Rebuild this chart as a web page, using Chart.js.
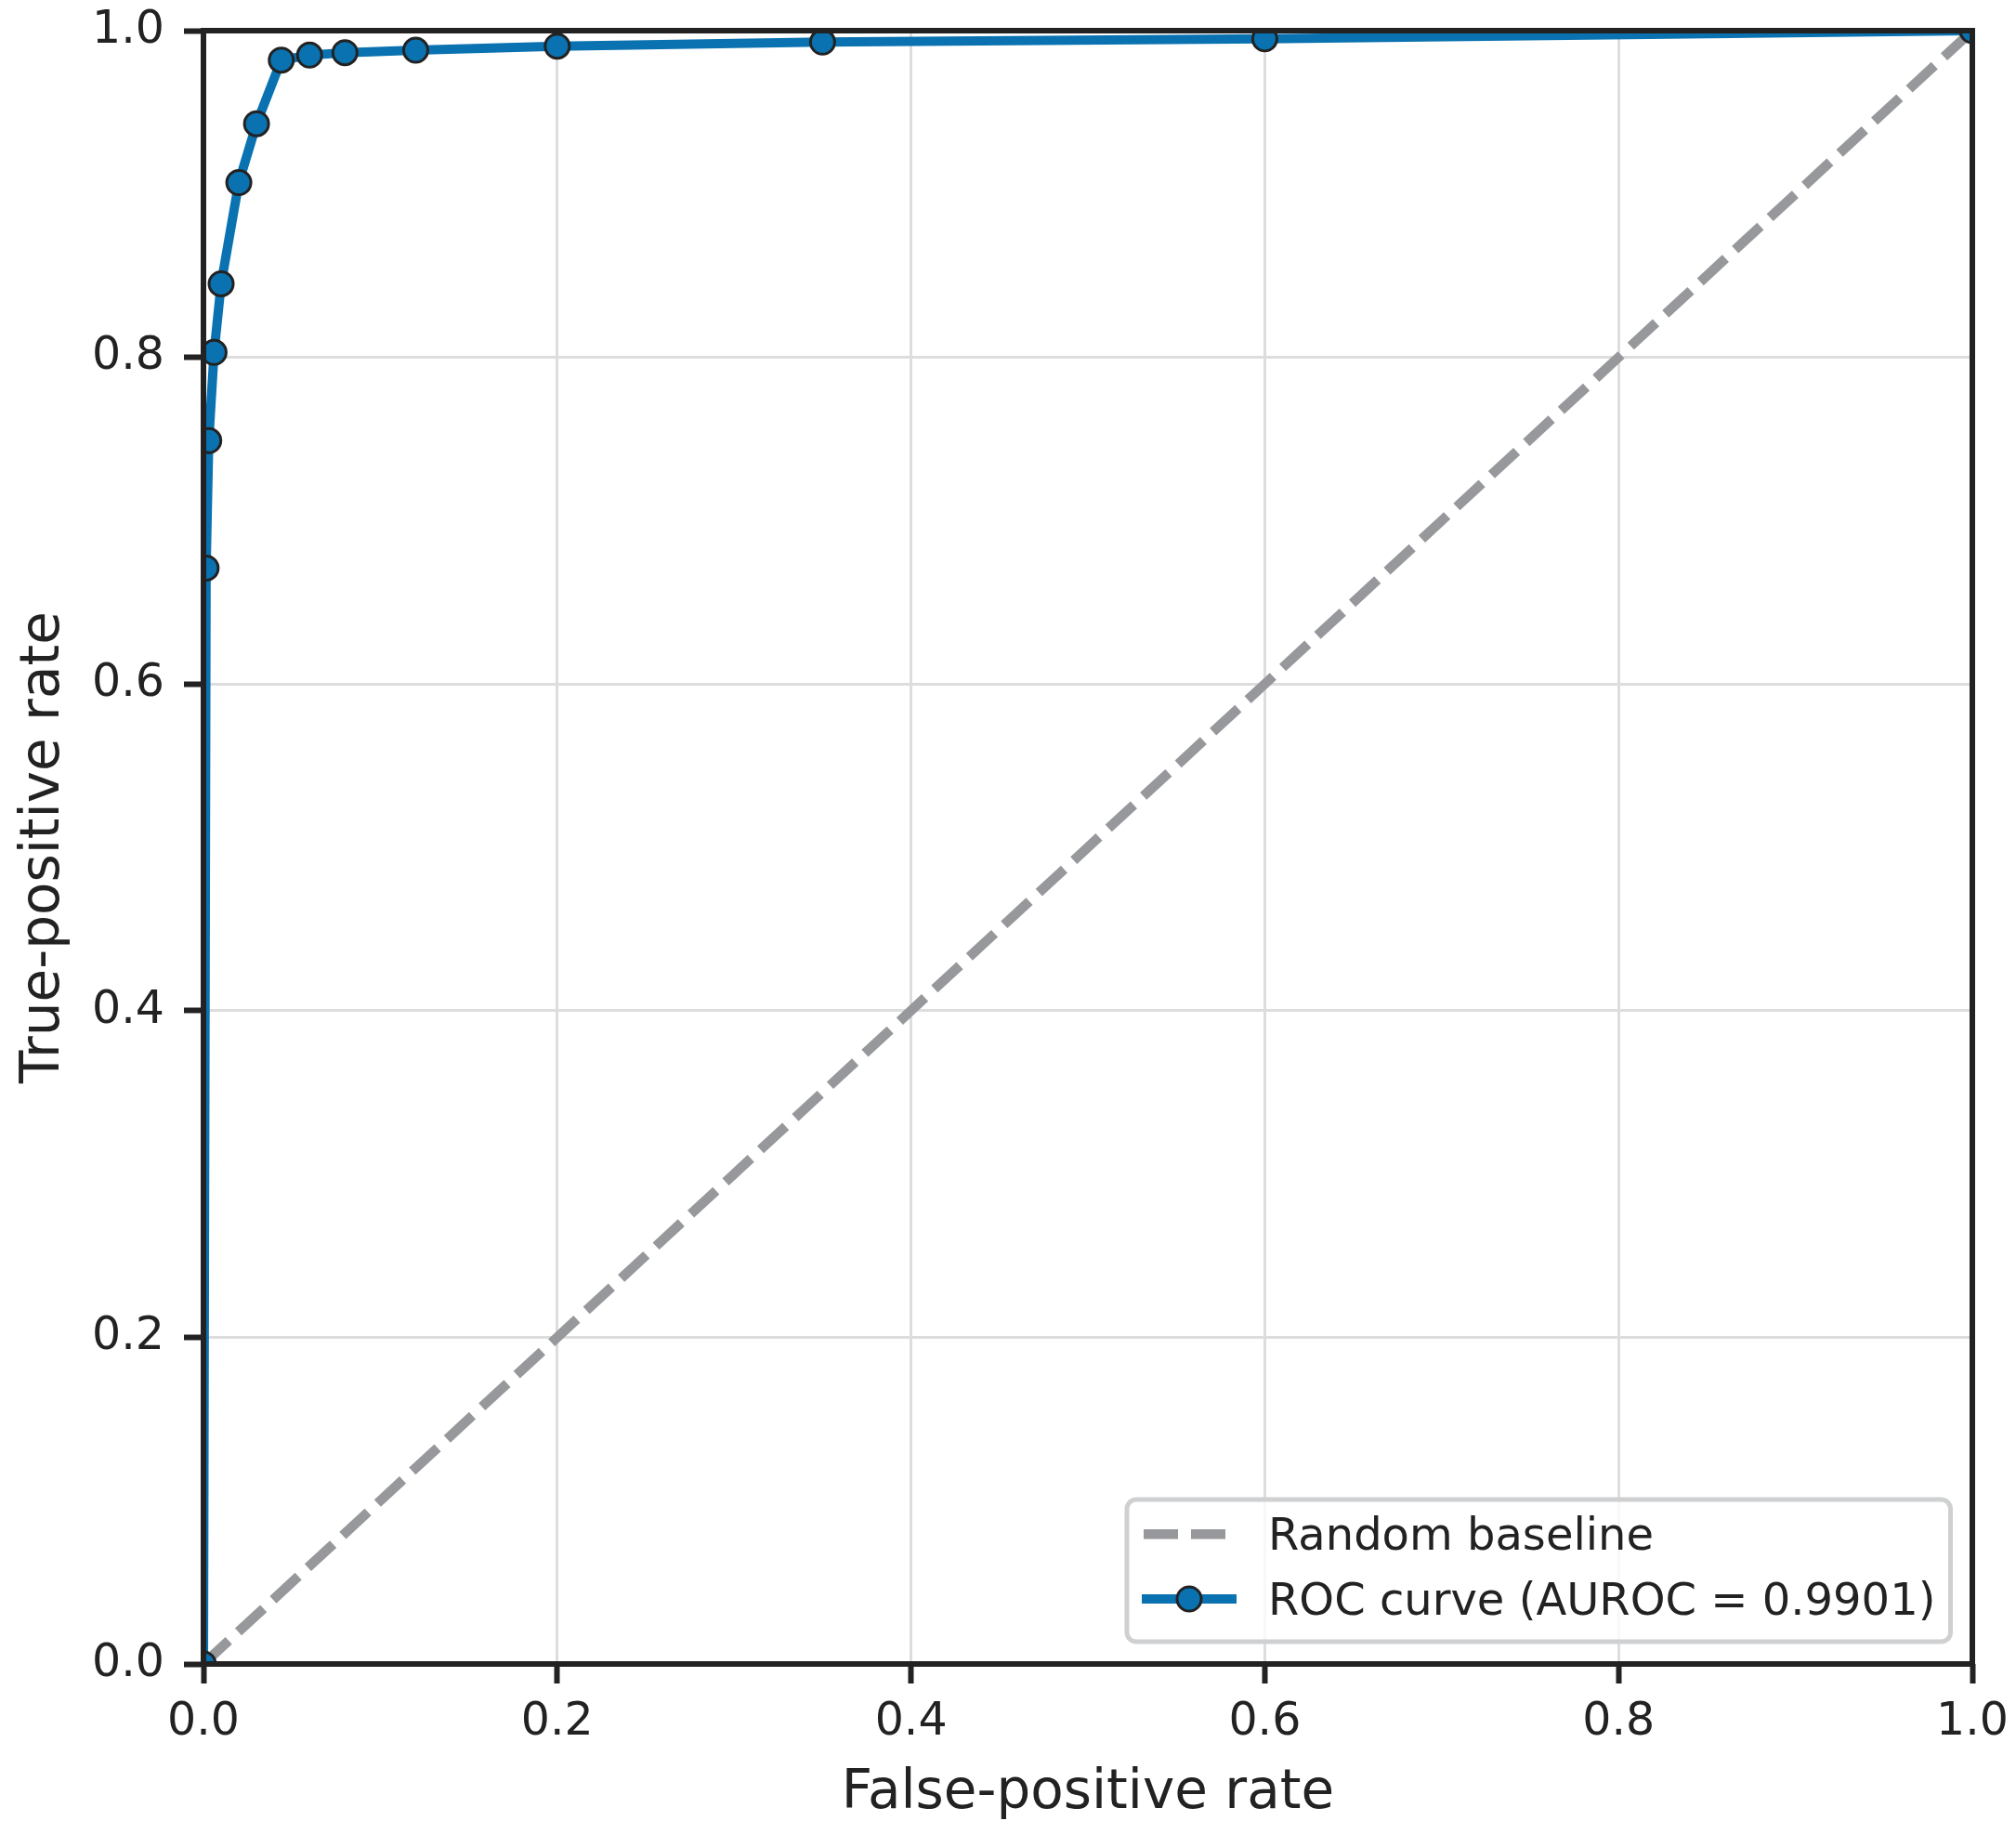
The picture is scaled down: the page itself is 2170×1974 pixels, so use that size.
<!DOCTYPE html>
<html>
<head>
<meta charset="utf-8">
<script src="https://cdn.jsdelivr.net/npm/chart.js@4.4.1/dist/chart.umd.min.js"></script>
<style>
  html, body { margin: 0; padding: 0; background: #ffffff; }
  #wrap { width: 2170px; height: 1974px; }
</style>
</head>
<body>
<div id="wrap"><canvas id="c" width="2170" height="1974"></canvas></div>
<script>
// ---- Data ----
const fpr = [0, 0.0015, 0.003, 0.006, 0.01, 0.02, 0.03, 0.044, 0.06, 0.08, 0.12, 0.2, 0.35, 0.6, 1.0];
const tpr = [0, 0.671, 0.749, 0.803, 0.845, 0.907, 0.943, 0.982, 0.985, 0.9865, 0.988, 0.9905, 0.993, 0.995, 1.0];
const baselineX = [0, 1];
const baselineY = [0, 1];
const tickValues = [0, 0.2, 0.4, 0.6, 0.8, 1.0];
const rocLabel = 'ROC curve (AUROC = 0.9901)';
const baselineLabel = 'Random baseline';
const xTitle = 'False-positive rate';
const yTitle = 'True-positive rate';

// ---- Styles ----
const FONT = "'DejaVu Sans', 'Liberation Sans', sans-serif";
const BLUE = '#0a72b0';
const GRAY = '#97989b';
const DARK = '#222222';
const GRID = '#dddddd';

const rocPoints = fpr.map((x, i) => ({ x: x, y: tpr[i] }));
const basePoints = baselineX.map((x, i) => ({ x: x, y: baselineY[i] }));

const spinesPlugin = {
  id: 'spines',
  afterDatasetsDraw(chart) {
    const { ctx, chartArea: a } = chart;
    ctx.save();
    ctx.strokeStyle = DARK;
    ctx.lineWidth = 6;
    ctx.strokeRect(a.left, a.top, a.right - a.left, a.bottom - a.top);
    ctx.restore();
  }
};

const legendPlugin = {
  id: 'customLegend',
  afterDraw(chart) {
    const { ctx } = chart;
    const x0 = 1213, y0 = 1614, x1 = 2099.5, y1 = 1767, r = 10;
    ctx.save();
    ctx.beginPath();
    ctx.moveTo(x0 + r, y0);
    ctx.arcTo(x1, y0, x1, y1, r);
    ctx.arcTo(x1, y1, x0, y1, r);
    ctx.arcTo(x0, y1, x0, y0, r);
    ctx.arcTo(x0, y0, x1, y0, r);
    ctx.closePath();
    ctx.fillStyle = 'rgba(255,255,255,0.8)';
    ctx.fill();
    ctx.strokeStyle = '#cfd0d1';
    ctx.lineWidth = 5;
    ctx.stroke();

    const ds = chart.data.datasets;
    const rows = [
      { ds: ds[1], y: 1651.3, base: 1668.3, sx0: 1231, sx1: 1320 },
      { ds: ds[0], y: 1721, base: 1738.3, sx0: 1229, sx1: 1331 }
    ];
    const tx = 1365;
    rows.forEach(row => {
      const d = row.ds;
      ctx.save();
      ctx.strokeStyle = d.borderColor;
      ctx.lineWidth = d.borderWidth;
      ctx.lineCap = 'butt';
      ctx.setLineDash(d.borderDash || []);
      ctx.beginPath();
      ctx.moveTo(row.sx0, row.y);
      ctx.lineTo(row.sx1, row.y);
      ctx.stroke();
      ctx.restore();
      if (d.pointRadius > 0) {
        ctx.beginPath();
        ctx.arc(1280, row.y, d.pointRadius, 0, Math.PI * 2);
        ctx.fillStyle = d.pointBackgroundColor;
        ctx.fill();
        ctx.lineWidth = d.pointBorderWidth;
        ctx.strokeStyle = d.pointBorderColor;
        ctx.stroke();
      }
      ctx.fillStyle = DARK;
      ctx.font = '48px ' + FONT;
      ctx.textBaseline = 'alphabetic';
      ctx.textAlign = 'left';
      ctx.fillText(d.label, tx, row.base);
    });
    ctx.restore();
  }
};

const tickOpts = {
  color: DARK,
  font: { family: FONT, size: 49, lineHeight: 1.2 },
  autoSkip: false,
  maxRotation: 0,
  stepSize: 0.2,
  callback: (v) => Number(v).toFixed(1)
};

const gridOpts = { color: GRID, lineWidth: 3, tickColor: DARK, tickWidth: 6, tickLength: 21, drawTicks: true };

new Chart(document.getElementById('c'), {
  type: 'line',
  data: {
    datasets: [
      {
        label: rocLabel,
        data: rocPoints,
        borderColor: BLUE,
        borderWidth: 10,
        backgroundColor: BLUE,
        pointBackgroundColor: BLUE,
        pointBorderColor: DARK,
        pointBorderWidth: 3,
        pointRadius: 13,
        pointHoverRadius: 13,
        tension: 0,
        fill: false,
        clip: 0
      },
      {
        label: baselineLabel,
        data: basePoints,
        borderColor: GRAY,
        borderWidth: 10.5,
        borderDash: [37, 14],
        pointRadius: 0,
        tension: 0,
        fill: false,
        clip: 0
      }
    ]
  },
  options: {
    responsive: false,
    devicePixelRatio: 1,
    animation: false,
    events: [],
    layout: { padding: { left: 0, top: 33, right: 47, bottom: 0 } },
    plugins: {
      legend: { display: false },
      tooltip: { enabled: false }
    },
    scales: {
      x: {
        type: 'linear',
        min: 0, max: 1,
        afterFit(scale) { scale.height = 183; scale.paddingLeft = 0; scale.paddingRight = 0; },
        afterBuildTicks(scale) { scale.ticks = tickValues.map(v => ({ value: v })); },
        grid: gridOpts,
        border: { display: false },
        ticks: Object.assign({}, tickOpts, { padding: 13 }),
        title: { display: true, text: xTitle, color: DARK, font: { family: FONT, size: 58, lineHeight: 1.2 }, padding: { top: 0, bottom: 8 } }
      },
      y: {
        type: 'linear',
        min: 0, max: 1,
        afterFit(scale) { scale.width = 219; scale.paddingTop = 0; scale.paddingBottom = 0; },
        afterBuildTicks(scale) { scale.ticks = tickValues.map(v => ({ value: v })); },
        grid: gridOpts,
        border: { display: false },
        ticks: Object.assign({}, tickOpts, { padding: 21 }),
        title: { display: true, text: yTitle, color: DARK, font: { family: FONT, size: 58, lineHeight: 1.2 }, padding: { top: 13, bottom: 0 } }
      }
    }
  },
  plugins: [spinesPlugin, legendPlugin]
});
</script>
</body>
</html>
